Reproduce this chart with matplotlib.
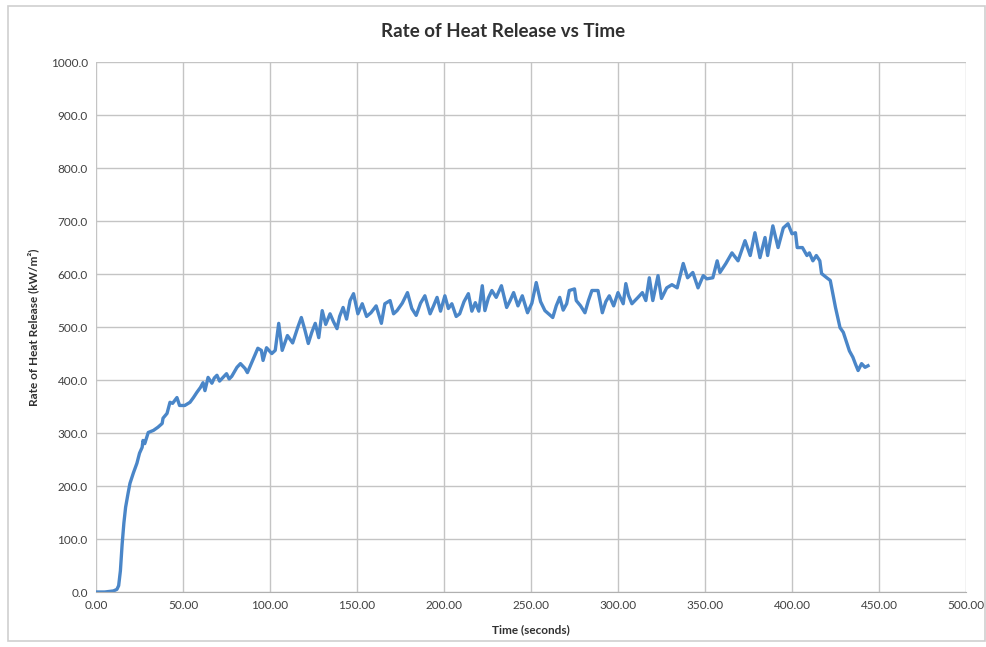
import matplotlib
matplotlib.use("Agg")
import matplotlib.pyplot as plt
from matplotlib.patches import Rectangle
from matplotlib.ticker import FormatStrFormatter

plt.rcParams['font.family'] = ['Lato', 'DejaVu Sans']

# time (s) and heat release rate (kW/m2)
time_s = [0, 5, 10, 12, 13, 14, 15, 16, 17, 18.4, 19.5, 21.5, 23.5, 25, 26.5, 27, 28, 30,
          33, 35.6, 38, 38.5, 40.8, 42.5, 44, 46.5, 48, 51, 54, 56, 58, 60, 61.5, 62.6,
          64.4, 66.6, 68, 69.5, 71, 72.4, 75, 76.5, 78, 81, 83, 85.6, 87, 90, 93, 95, 96,
          98, 101, 103, 105, 107, 110,
          113, 116, 118, 120, 122, 124, 126, 128, 130, 132, 134.5, 136.5, 138.5, 140, 142,
          144, 146, 148, 150.5, 153, 155.5, 158, 161, 164, 166, 169, 171, 173, 176, 179,
          181.5, 184, 186.5, 189, 192, 194, 196,
          198, 200.5, 202.5, 204.5, 207, 209, 211.5, 214, 216, 218, 220, 222, 223.5, 225.5,
          227.5, 230, 233, 236, 238, 240, 242.5, 245, 248, 250.5, 253, 255.5, 258, 262.5,
          264.5, 266.5, 268.5, 270.5, 272, 275, 276, 278.5, 281, 283, 285, 288.5, 291, 293,
          295, 297.5, 300, 303, 304.5, 306, 308, 311.5, 314, 316, 318, 320, 323, 325, 328,
          331, 334, 337.5, 340, 343, 346, 349, 351, 354.5, 357, 358.6, 362, 365.5, 369, 373,
          376, 378.7, 381.6, 384.5, 386, 389, 392, 395, 397.7, 400, 402, 403, 406, 408.6,
          410, 412, 414, 416, 417, 420, 422, 425, 427.6, 429.5, 431.6, 433, 435, 436.5,
          438, 440, 442, 443.7]
heat_release = [0, 0, 2, 5, 12, 40, 90, 130, 160, 186, 205, 225, 243, 262, 273, 286, 280, 301,
                305, 311, 318, 328, 337, 358, 356, 367, 352, 352, 358, 367, 377, 386, 395, 380,
                405, 394, 404, 409, 398, 403, 412, 402, 407, 424, 431, 422, 414, 437, 460, 456,
                437, 461, 450, 456, 507, 456, 484,
                470, 500, 518, 495, 469, 490, 507, 480, 531, 505, 525, 510, 497, 520, 537,
                515, 550, 563, 525, 544, 520, 527, 540, 507, 544, 550, 525, 531, 545, 565,
                535, 522, 545, 559, 525, 540, 556,
                530, 559, 535, 544, 520, 525, 548, 563, 530, 546, 530, 578, 531, 555,
                569, 556, 578, 537, 550, 565, 540, 559, 527, 545, 584, 548, 531, 518,
                540, 556, 532, 544, 569, 572, 550, 540, 527, 550, 569, 569, 527, 548,
                559, 540, 565, 544, 582, 560, 544, 556, 565, 550, 593, 550, 597, 554, 574,
                580, 574, 620, 593, 603, 574, 597, 591, 593, 625, 603, 620, 640, 625, 663,
                635, 678, 631, 669, 635, 691, 650, 687, 695, 676, 678, 650, 650, 635,
                640, 625, 635, 625, 601, 593, 588, 537, 499, 490, 469, 455, 443, 430,
                418, 431, 424, 427]

fig = plt.figure(figsize=(9.87, 6.47), dpi=100)
fig.patches.append(Rectangle((0.008, 0.01), 0.99, 0.98, transform=fig.transFigure,
                             fill=False, edgecolor='#cfcfcf', linewidth=1.2))
ax = fig.add_axes([0.0973, 0.085, 0.8814, 0.819])

ax.plot(time_s, heat_release, color='#4a86c8', linewidth=2.4)

ax.set_xlim(0, 500)
ax.set_ylim(0, 1000)
ax.set_xticks(range(0, 501, 50))
ax.set_yticks(range(0, 1001, 100))
ax.xaxis.set_major_formatter(FormatStrFormatter('%.2f'))
ax.yaxis.set_major_formatter(FormatStrFormatter('%.1f'))
ax.tick_params(labelsize=8.5, colors='#404040', length=0, pad=6)
ax.grid(True, color='#c4c4c4', linewidth=1.0)
ax.set_axisbelow(True)
for side in ['top', 'right', 'left']:
    ax.spines[side].set_visible(False)
ax.spines['bottom'].set_color('#b0b0b0')

fig.text(0.51, 0.952, 'Rate of Heat Release vs Time', fontsize=13.5, fontweight='bold',
         color='#303030', ha='center', va='center')
ax.set_xlabel('Time (seconds)', fontsize=8.5, fontweight='bold', color='#303030', labelpad=9)
ax.set_ylabel('Rate of Heat Release (kW/m²)', fontsize=8.5, fontweight='bold',
              color='#303030', labelpad=8)

fig.savefig('out.png', dpi=100)
